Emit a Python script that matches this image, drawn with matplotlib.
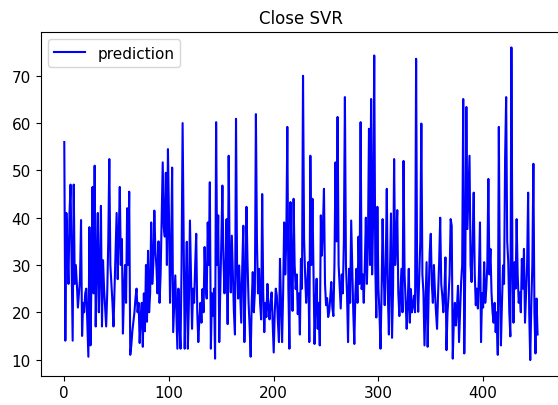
import matplotlib
matplotlib.use('Agg')
import matplotlib.pyplot as plt

title = 'Close SVR'
label = 'prediction'

# predicted close values (index 0..452)
pred_0 = [56, 14, 41, 33, 26, 41, 47, 30, 14, 47, 26, 30, 26, 21, 24, 27, 39.5, 15, 22, 20,
          24, 25, 18, 10.6, 38, 13, 28, 46.5, 24, 51, 17, 30, 41, 20, 28, 42.5, 17, 31, 25, 21,
          17, 24, 35, 52.4, 30, 26, 22, 17, 25, 33, 41, 27, 36, 46.5, 30, 35.5, 15.5, 24, 30, 22,
          42, 30, 45.5, 11, 13, 16, 18, 20, 23, 25, 20, 22, 13.5, 19, 22, 12.7, 24, 16, 30, 18,
          33, 20, 24, 39, 26, 30, 41.5, 33, 29.6, 24, 35, 22, 28, 40, 51.7, 38, 36, 49.5, 30, 54.5,
          40, 22]
pred_1 = [32, 50.6, 15.8, 22, 27.8, 20, 12.3, 25, 18, 12.3, 30, 60, 34.9, 12.3, 25, 34.9, 12.3, 22,
          39.4, 28, 16.5, 25, 22, 30, 36.6, 20, 13.7, 18.5, 22, 17.8, 24.9, 20, 33.8, 26, 22.9, 39,
          30, 47.5, 12.3, 24, 19.2, 25, 10.2, 60.2, 30, 40.5, 13.7, 25, 35, 46.8, 31.3, 24, 30, 39.7,
          17.5, 53.1, 30, 24.2, 36.2, 28, 20, 15.3, 60.9, 30, 22.9, 29.9, 24, 17.8, 30, 38.3, 13.7,
          25, 42.3, 30.6, 22, 17, 10.6, 22, 28.5, 20, 24.2, 61.9, 35, 24, 29.2, 22, 18.5, 45, 24,
          15.8, 22, 19, 26, 21, 18.5, 22, 24.2, 18, 11.5, 20, 25, 23.5, 18, 13.7, 31.3, 22, 13.7,
          24, 39, 28, 35, 59.2, 25, 12.3]
pred_2 = [43.3, 30, 20.3, 44, 30, 24.9, 28, 19.6, 24, 15.3, 31.3, 25, 70, 35.6, 28, 22, 26, 30.6,
          13.7, 53.1, 30, 44, 28, 13.3, 22, 27.1, 16.5, 22, 13, 40.5, 32, 38, 46.1, 26, 21.5, 23,
          19, 20.1, 23, 26.4, 21, 19.2, 30, 51.7, 35, 61.3, 30, 25.6, 20.8, 28, 24, 35, 65.5, 29.9,
          24, 13.7, 29.2, 22, 39.4, 30, 20, 13.3, 24, 29.2, 22, 36, 26, 60.2, 24.9, 28, 22, 30, 40,
          26, 35, 58.8, 30, 65.1, 28, 40, 74.3, 30, 18.9, 42.3, 25, 20, 12.3, 24, 39.7, 28, 21.5,
          30, 46.1, 24, 15.3, 28, 40.9, 14.6, 25, 52.4, 30, 35, 41.6, 24, 19.2, 24, 29.2, 20, 52,
          28, 22, 16.5, 22, 29.2]
pred_3 = [17.8, 24.9, 20, 21.5, 23.5, 20, 73.6, 26, 20.1, 27.8, 35, 59.9, 28, 24.2, 13, 22, 30.6,
          12.7, 24, 32.7, 36.6, 26, 22, 30, 24.2, 20, 16.5, 24, 30.6, 40, 26, 23.5, 20, 24.2, 31.6,
          12, 20, 23.5, 28, 39.7, 38.3, 10.2, 18, 22, 17.2, 21, 25.6, 13.7, 20, 26.4, 30, 65.1,
          11.3, 30, 63.4, 37.6, 45, 53.1, 30, 26.4, 35, 45.3, 28, 21.5, 25, 20.8, 28, 39, 13.7, 24,
          21, 30.6, 22, 24.9, 30, 48.2, 28, 33.4, 24.2, 20, 17.8, 22, 15.8, 20, 11, 59.2, 25, 13,
          22, 29.9, 26, 52.8, 65.5, 35, 30.6, 20, 14.9, 76, 30, 17.8, 30.6, 25, 39.7, 28, 22, 24.2,
          20, 31.3, 25, 33.4, 17.8, 24, 30, 45.3, 20, 9.9, 21.5, 30, 51.4, 20, 11.3, 22.9, 15.3]

pred = pred_0 + pred_1 + pred_2 + pred_3

fig = plt.figure(figsize=(5.58, 4.06), dpi=100)
ax = fig.add_axes([0.0728, 0.0722, 0.933, 0.847])
ax.plot(pred, color='blue', label=label)
ax.set_title(title, fontsize=12)
ax.legend(loc='upper left', fontsize=11)
ax.tick_params(labelsize=11)
fig.savefig('out.png')
